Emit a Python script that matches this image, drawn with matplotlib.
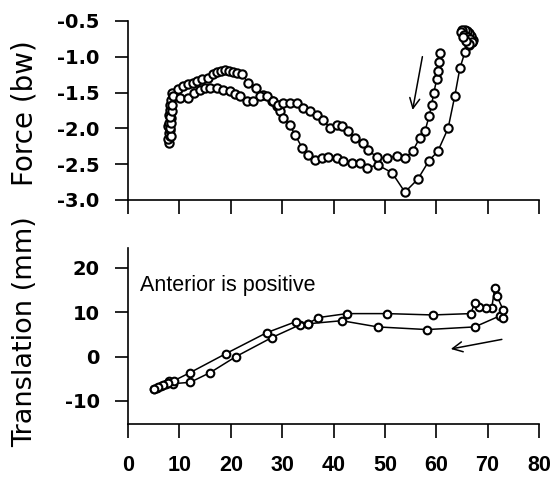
import matplotlib
matplotlib.use("Agg")
import matplotlib.pyplot as plt

plt.rcParams['axes.unicode_minus'] = False

# Force trace, loop A (high early peak, deep minimum, ends top right)
force_a_x = [8.0, 7.8, 8.1, 7.9, 8.2, 7.8, 8.0, 8.3, 7.9, 8.1, 8.2, 8.4, 8.6, 9.7,
             10.8, 11.7, 12.6, 13.4, 14.5, 15.6, 16.5, 17.3, 18.1, 18.9, 19.7, 20.4,
             21.3, 22.2, 23.3, 24.9, 26.3, 28.0, 29.0, 29.6, 30.2, 31.5, 32.5, 33.9,
             35.0, 36.4, 37.7, 38.9, 40.7, 41.8, 43.6, 45.1, 46.5, 48.6, 51.4, 53.9,
             56.4, 58.6, 60.3, 62.3, 63.6, 64.6, 65.6, 66.3, 66.9, 67.1, 66.7, 66.3,
             65.9, 65.5, 65.1, 64.9, 65.4, 66.0, 66.6, 67.0, 66.4, 65.8, 65.3]
force_a_y = [-2.20, -2.15, -2.11, -2.06, -2.02, -1.97, -1.92, -1.86, -1.81, -1.75,
             -1.68, -1.60, -1.50, -1.455, -1.41, -1.38, -1.36, -1.34, -1.31, -1.29,
             -1.24, -1.21, -1.20, -1.19, -1.20, -1.21, -1.22, -1.24, -1.36, -1.43,
             -1.53, -1.62, -1.69, -1.76, -1.85, -1.95, -2.09, -2.27, -2.37, -2.44,
             -2.42, -2.40, -2.41, -2.45, -2.48, -2.49, -2.55, -2.51, -2.62, -2.89,
             -2.71, -2.45, -2.32, -2.00, -1.55, -1.16, -0.93, -0.84, -0.80, -0.76,
             -0.71, -0.67, -0.64, -0.62, -0.63, -0.66, -0.69, -0.72, -0.75, -0.80,
             -0.82, -0.78, -0.72]

# Force trace, loop B (lower early peak, ends near x=61)
force_b_x = [8.3, 8.1, 8.4, 8.2, 8.5, 8.6, 8.8, 10.2, 11.7, 12.9, 14.0, 15.0, 16.0,
             17.3, 18.5, 19.8, 20.8, 21.8, 23.2, 24.3, 25.7, 27.0, 28.2, 29.2, 30.2,
             31.5, 32.9, 34.0, 35.4, 36.8, 37.9, 39.3, 40.7, 41.6, 42.8, 44.2, 45.7,
             46.7, 48.4, 50.4, 52.3, 53.9, 55.4, 56.8, 57.8, 58.6, 59.1, 59.5, 60.1,
             60.3, 60.5, 60.7]
force_b_y = [-2.10, -2.00, -1.92, -1.84, -1.76, -1.68, -1.55, -1.57, -1.57, -1.51,
             -1.46, -1.44, -1.43, -1.43, -1.46, -1.48, -1.52, -1.55, -1.62, -1.62,
             -1.55, -1.55, -1.62, -1.67, -1.64, -1.64, -1.64, -1.71, -1.76, -1.81,
             -1.88, -1.99, -1.95, -1.97, -2.04, -2.13, -2.20, -2.30, -2.40, -2.42,
             -2.38, -2.41, -2.32, -2.13, -2.04, -1.83, -1.67, -1.51, -1.31, -1.20,
             -1.07, -0.94]

# Translation trace, lower branch then upper branch back
trans_lo_x = [5.0, 5.6, 6.5, 7.3, 8.0, 8.8, 12.1, 16.0, 21.0, 28.0, 33.5, 35.0, 41.6,
              48.6, 58.2, 67.5, 72.4, 73.0]
trans_lo_y = [-7.3, -7.0, -6.6, -6.1, -5.6, -6.1, -5.8, -3.6, 0.0, 4.3, 7.2, 7.4, 8.1,
              6.7, 6.1, 6.7, 9.2, 8.8]
trans_hi_x = [73.0, 71.8, 71.4, 70.8, 69.6, 68.4, 67.5, 66.7, 59.3, 50.4, 42.6, 37.0,
              35.0, 32.7, 27.0, 19.1, 12.1, 9.0, 7.8, 6.8, 5.8, 5.0]
trans_hi_y = [10.6, 13.7, 15.5, 11.0, 10.9, 11.2, 12.1, 9.7, 9.4, 9.7, 9.7, 8.8, 7.4,
              7.9, 5.4, 0.7, -3.6, -5.4, -5.9, -6.3, -6.9, -7.2]

x_ticks = [0, 10, 20, 30, 40, 50, 60, 70, 80]
force_ticks = [-0.5, -1.0, -1.5, -2.0, -2.5, -3.0]
trans_ticks = [20, 10, 0, -10]

fig = plt.figure(figsize=(5.55, 4.79), dpi=100)
ax1 = fig.add_axes([128 / 555, 1 - 200 / 479, 411 / 555, 179 / 479])
ax2 = fig.add_axes([128 / 555, 1 - 424 / 479, 411 / 555, 176 / 479])

mk = dict(marker='o', mfc='white', mec='black', color='black', lw=1.1, mew=1.5)
ax1.plot(force_a_x, force_a_y, ms=6, **mk)
ax1.plot(force_b_x, force_b_y, ms=6, **mk)
ax2.plot(trans_lo_x, trans_lo_y, ms=5.5, **mk)
ax2.plot(trans_hi_x, trans_hi_y, ms=5.5, **mk)

ax1.annotate('', xy=(55.3, -1.78), xytext=(57.4, -0.96),
             arrowprops=dict(arrowstyle='->', color='black', lw=1.1,
                             mutation_scale=18))
ax2.annotate('', xy=(62.3, 1.6), xytext=(73.3, 4.0),
             arrowprops=dict(arrowstyle='->', color='black', lw=1.1,
                             mutation_scale=18))
ax2.text(2.3, 14.8, 'Anterior is positive', family='Liberation Sans',
         fontsize=15.5, va='baseline', ha='left')

ax1.set_xlim(0, 80)
ax1.set_ylim(-3.0, -0.5)
ax2.set_xlim(0, 80)
ax2.set_ylim(-15.2, 24.5)

for ax, yt in ((ax1, force_ticks), (ax2, trans_ticks)):
    for side in ('top', 'right'):
        ax.spines[side].set_visible(False)
    for side in ('left', 'bottom'):
        ax.spines[side].set_linewidth(1.2)
    ax.set_xticks(x_ticks)
    ax.set_yticks(yt)
    ax.tick_params(axis='x', direction='out', length=10, width=1.2, pad=12)
    ax.tick_params(axis='y', direction='out', length=9.5, width=1.2, pad=11)

ax1.set_yticklabels(['-0.5', '-1.0', '-1.5', '-2.0', '-2.5', '-3.0'],
                    family='DejaVu Sans', weight='bold', fontsize=14)
ax2.set_yticklabels(['20', '10', '0', '-10'],
                    family='DejaVu Sans', weight='bold', fontsize=14)
ax1.set_xticklabels([])
ax2.set_xticklabels([str(v) for v in x_ticks], family='Liberation Sans',
                    weight='bold', fontsize=15.5)

fig.text(25 / 555, 1 - 113 / 479, 'Force (bw)', rotation=90, ha='center',
         va='center', family='DejaVu Sans', fontsize=20)
fig.text(25 / 555, 1 - 332 / 479, 'Translation (mm)', rotation=90, ha='center',
         va='center', family='DejaVu Sans', fontsize=19.5)

fig.savefig('out.png', dpi=100)
